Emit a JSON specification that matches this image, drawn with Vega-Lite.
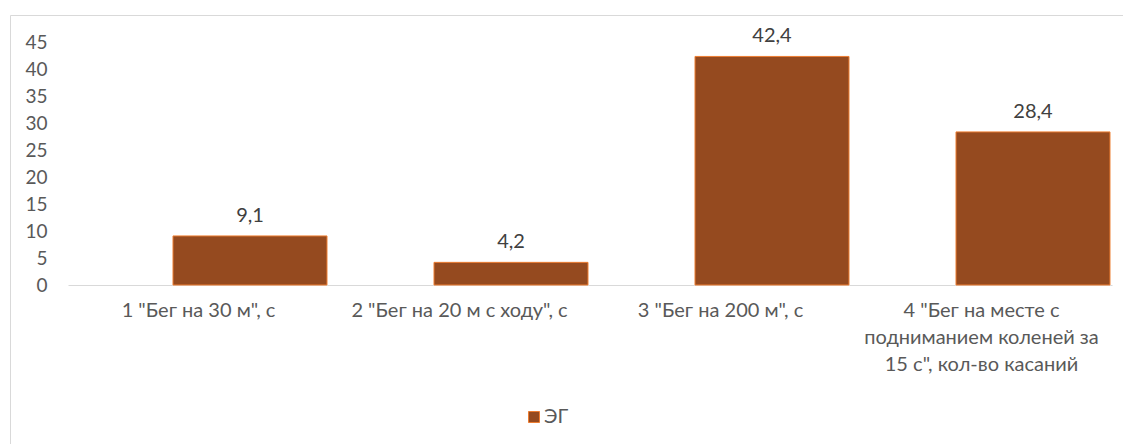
{
  "$schema": "https://vega.github.io/schema/vega-lite/v6.json",
  "width": 1120,
  "height": 435,
  "autosize": {"type": "none"},
  "padding": {"left": 10, "top": 15, "right": 0, "bottom": 0},
  "background": "white",
  "config": {
    "view": {"stroke": "#d9d9d9", "strokeWidth": 1},
    "font": "Lato",
    "locale": {"number": {"decimal": ",", "thousands": " ", "grouping": [3], "currency": ["", ""]}}
  },
  "data": {
    "values": [
      {"test": "1 \"Бег на 30 м\", с", "group": "ЭГ", "value": 9.1},
      {"test": "2 \"Бег на 20 м с ходу\", с", "group": "ЭГ", "value": 4.2},
      {"test": "3 \"Бег на 200 м\", с", "group": "ЭГ", "value": 42.4},
      {"test": "4 \"Бег на месте с подниманием коленей за 15 с\", кол-во касаний", "group": "ЭГ", "value": 28.4}
    ]
  },
  "encoding": {
    "x": {
      "field": "test",
      "type": "nominal",
      "sort": null,
      "scale": {"range": [58, 1102], "paddingInner": 0, "paddingOuter": 0},
      "axis": {
        "title": null,
        "orient": "bottom",
        "offset": -165,
        "labelAngle": 0,
        "ticks": false,
        "domainColor": "#d9d9d9",
        "domainWidth": 1,
        "labelColor": "#595959",
        "labelFont": "Lato",
        "labelFontSize": 20,
        "labelPadding": 15,
        "labelLimit": 0,
        "labelLineHeight": 27,
        "labelExpr": "indexof(datum.label, '4 ') == 0 ? ['4 \"Бег на месте с', 'подниманием коленей за', '15 с\", кол-во касаний'] : datum.label"
      }
    },
    "y": {
      "field": "value",
      "type": "quantitative",
      "scale": {"domain": [-30.61, 50.09], "nice": false, "zero": false},
      "axis": {
        "title": null,
        "values": [0, 5, 10, 15, 20, 25, 30, 35, 40, 45],
        "offset": -37,
        "grid": false,
        "ticks": false,
        "domain": false,
        "labelPadding": 0,
        "labelColor": "#595959",
        "labelFont": "Lato",
        "labelFontSize": 19
      }
    }
  },
  "layer": [
    {
      "mark": {"type": "bar", "width": {"band": 0.59}, "xOffset": 51.5, "stroke": "#ED7D31", "strokeWidth": 1},
      "encoding": {
        "color": {
          "field": "group",
          "type": "nominal",
          "scale": {"domain": ["ЭГ"], "range": ["#954A1F"]},
          "legend": {
            "title": null,
            "orient": "none",
            "legendX": 514,
            "legendY": 392,
            "symbolType": "square",
            "symbolSize": 121,
            "symbolStrokeColor": "#ED7D31",
            "symbolStrokeWidth": 1,
            "labelFont": "Lato",
            "labelFontSize": 20,
            "labelColor": "#595959",
            "labelOffset": 0,
            "padding": 0
          }
        }
      }
    },
    {
      "mark": {"type": "text", "xOffset": 51.5, "dy": -14, "baseline": "alphabetic", "font": "Lato", "fontSize": 20, "color": "#404040"},
      "encoding": {
        "text": {"field": "value", "type": "quantitative", "format": ".1f"}
      }
    }
  ]
}
